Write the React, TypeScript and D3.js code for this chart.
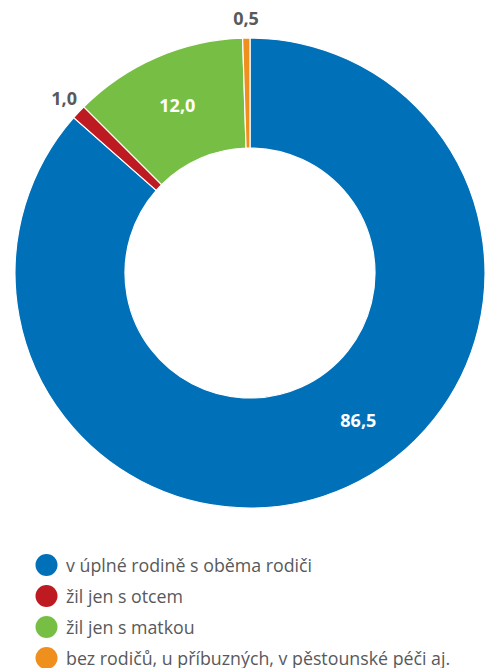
import React from "react";
import * as d3 from "d3";

const categories = [
  "v úplné rodině s oběma rodiči",
  "žil jen s otcem",
  "žil jen s matkou",
  "bez rodičů, u příbuzných, v pěstounské péči aj.",
];
const values = [86.5, 1.0, 12.0, 0.5];
const valueLabels = ["86,5", "1,0", "12,0", "0,5"];
const colors = ["#0070b9", "#be1a21", "#77bf44", "#ef8f1d"];

const W = 490;
const H = 668;
const cx = 250;
const cy = 273;
const outerR = 235;
const innerR = 125;
const font = "'Open Sans', 'Noto Sans', sans-serif";

export default function App() {
  const pie = d3
    .pie<number>()
    .sort(null)
    .value((d) => d)
    .startAngle(0)
    .endAngle(2 * Math.PI);
  const arcs = pie(values);
  const arc = d3.arc<d3.PieArcDatum<number>>().innerRadius(innerR).outerRadius(outerR);

  const labelPos = (a: d3.PieArcDatum<number>, i: number) => {
    const big = a.value >= 5;
    let ang = (a.startAngle + a.endAngle) / 2;
    if (i === 0) ang = (143.7 * Math.PI) / 180;
    const r = big ? 183 : 255;
    return [Math.sin(ang) * r, -Math.cos(ang) * r];
  };

  const legendY = d3.scaleLinear().domain([0, 1]).range([565, 596]);

  return (
    <svg width={W} height={H} style={{ position: "absolute", left: 0, top: 0 }}>
      <g transform={`translate(${cx},${cy})`}>
        {arcs.map((a, i) => (
          <path key={i} d={arc(a) || ""} fill={colors[i]} stroke="#fff" strokeWidth={1.2} />
        ))}
        {arcs.map((a, i) => {
          const [x, y] = labelPos(a, i);
          const big = a.value >= 5;
          return (
            <text
              key={"l" + i}
              x={x}
              y={y}
              textAnchor="middle"
              dominantBaseline="central"
              fontFamily={font}
              fontWeight={700}
              fontSize={18}
              fill={big ? "#ffffff" : "#58595b"}
            >
              {valueLabels[i]}
            </text>
          );
        })}
      </g>
      {categories.map((c, i) => (
        <g key={"g" + i} transform={`translate(0,${legendY(i)})`}>
          <circle cx={46.5} cy={0} r={11} fill={colors[i]} />
          <text
            x={66}
            y={0}
            dominantBaseline="central"
            fontFamily={font}
            fontSize={17.8}
            fill="#58595b"
          >
            {c}
          </text>
        </g>
      ))}
    </svg>
  );
}
